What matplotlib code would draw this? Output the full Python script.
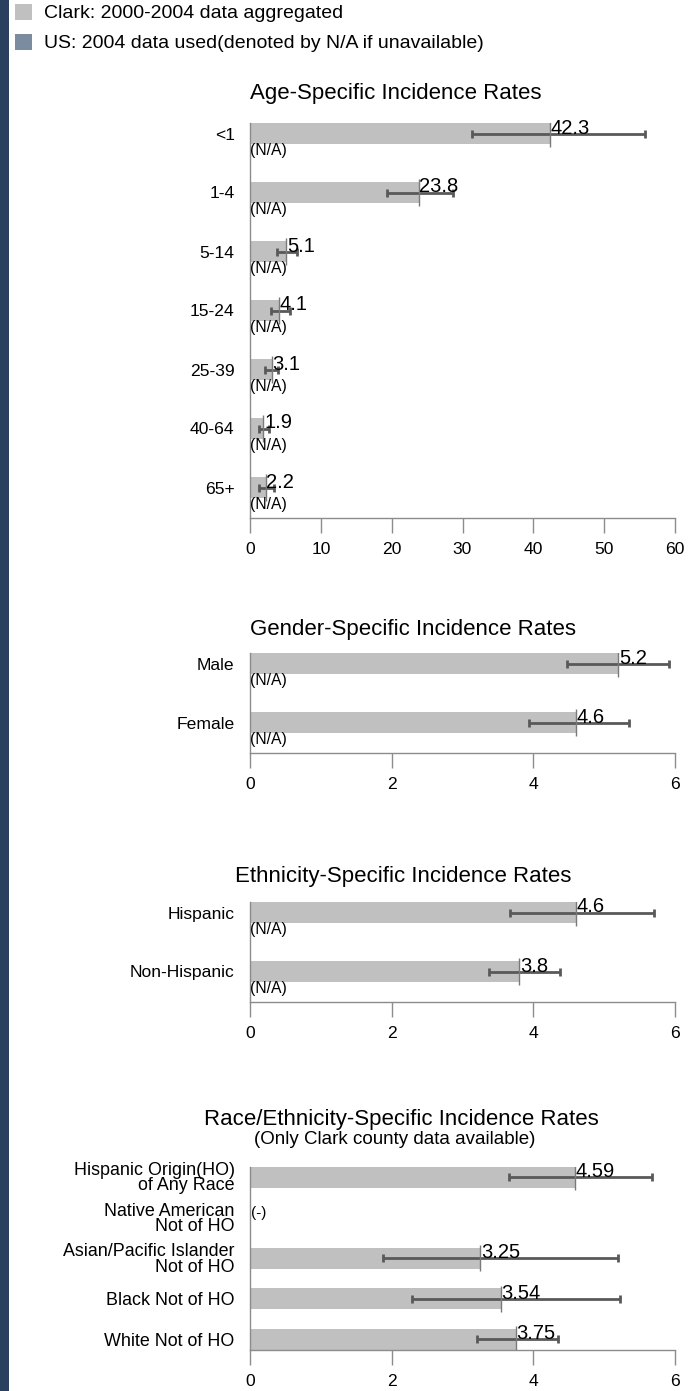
import numpy as np
import matplotlib
matplotlib.use("Agg")
import matplotlib.pyplot as plt
from matplotlib.patches import Rectangle

plt.rcParams['font.family'] = ['Liberation Sans', 'DejaVu Sans']

# ---- data -------------------------------------------------------------
age_groups = ['<1', '1-4', '5-14', '15-24', '25-39', '40-64', '65+']
age_rates = [42.3, 23.8, 5.1, 4.1, 3.1, 1.9, 2.2]
age_lower = [31.3, 19.4, 3.8, 2.9, 2.1, 1.3, 1.2]
age_upper = [55.7, 28.6, 6.7, 5.6, 4.0, 2.7, 3.4]
age_ticks = [0, 10, 20, 30, 40, 50, 60]

gender_groups = ['Male', 'Female']
gender_rates = [5.2, 4.6]
gender_lower = [4.47, 3.94]
gender_upper = [5.92, 5.35]

eth_groups = ['Hispanic', 'Non-Hispanic']
eth_rates = [4.6, 3.8]
eth_lower = [3.67, 3.37]
eth_upper = [5.70, 4.38]

race_groups = ['Hispanic Origin(HO)\nof Any Race', 'Native American\nNot of HO',
               'Asian/Pacific Islander\nNot of HO', 'Black Not of HO', 'White Not of HO']
race_rates = [4.59, np.nan, 3.25, 3.54, 3.75]
race_lower = [3.66, np.nan, 1.88, 2.28, 3.21]
race_upper = [5.68, np.nan, 5.19, 5.23, 4.35]
small_ticks = [0, 2, 4, 6]

legend_labels = ['Clark: 2000-2004 data aggregated',
                 'US: 2004 data used(denoted by N/A if unavailable)']

# ---- styling ----------------------------------------------------------
W, H = 693, 1391
BAR = '#c0c0c0'
US = '#7b8ca0'
ERR = '#595959'
AXC = '#8c8c8c'
NAVY = '#2b3f5e'

fig = plt.figure(figsize=(W / 100, H / 100), dpi=100)


def fx(px):
    return px / W


def fy(px):
    return 1 - px / H


# dark strip down the left edge
fig.patches.append(Rectangle((0, 0), fx(9), 1, transform=fig.transFigure,
                             facecolor=NAVY, edgecolor='none'))

# legend
for i, (lab, col) in enumerate(zip(legend_labels, [BAR, US])):
    yc = 12 + 30 * i
    fig.patches.append(Rectangle((fx(15), fy(yc + 8)), fx(17), 16 / H,
                                 transform=fig.transFigure,
                                 facecolor=col, edgecolor='none'))
    fig.text(fx(44), fy(yc + 1), lab, fontsize=14, va='center', ha='left')


def panel(top, bottom, first, pitch, cats, rates, lower, upper, xmax, ticks,
          fmt, na_text='(N/A)', missing_text='(-)', label_size=12.6):
    ax = fig.add_axes([fx(250), fy(bottom), fx(425), (bottom - top) / H])
    n = len(cats)
    y = np.arange(n)
    ax.set_ylim((bottom - first) / pitch, (top - first) / pitch)
    ax.set_xlim(0, xmax)
    r = np.array(rates, dtype=float)
    lo = np.array(lower, dtype=float)
    hi = np.array(upper, dtype=float)
    ok = ~np.isnan(r)
    bh = 21.3 / pitch
    ax.barh(y[ok], r[ok], height=bh, color=BAR, edgecolor='none', zorder=2)
    ax.errorbar(r[ok], y[ok], xerr=[r[ok] - lo[ok], hi[ok] - r[ok]], fmt='none',
                ecolor=ERR, elinewidth=2, capsize=3.2, capthick=2, zorder=3)
    ext = (bh / 2) + 2.5 / pitch
    ax.vlines(r[ok], y[ok] - ext, y[ok] + ext, color='#7a7a7a', lw=1, zorder=4)
    for yi, v in zip(y, r):
        if np.isnan(v):
            ax.annotate(missing_text, (0, yi), xytext=(1, 3),
                        textcoords='offset points', fontsize=11,
                        ha='left', va='center', zorder=5)
            continue
        ax.annotate(fmt.format(v), (v, yi), xytext=(0.5, 0),
                    textcoords='offset points', fontsize=14.5,
                    ha='left', va='baseline', zorder=5)
        if na_text:
            ax.annotate(na_text, (0, yi), xytext=(0.3, -17 * 0.72),
                        textcoords='offset points', fontsize=11.3,
                        ha='left', va='center', zorder=5)
    ax.set_yticks(y)
    ax.set_yticklabels(cats, fontsize=label_size, linespacing=0.88)
    ax.set_xticks(ticks)
    ax.set_xticklabels([str(t) for t in ticks], fontsize=12.6)
    ax.tick_params(axis='y', length=0, pad=11)
    ax.tick_params(axis='x', length=11, width=1, color=AXC, pad=6)
    for s in ('top', 'right'):
        ax.spines[s].set_visible(False)
    for s in ('left', 'bottom'):
        ax.spines[s].set_color(AXC)
        ax.spines[s].set_linewidth(1)
    ax.set_facecolor('none')
    return ax


panel(123, 518, 133.5, 59, age_groups, age_rates, age_lower, age_upper,
      60, age_ticks, '{:.1f}')
fig.text(fx(250), fy(94), 'Age-Specific Incidence Rates', fontsize=16,
         ha='left', va='center')

panel(653, 753, 663.5, 59, gender_groups, gender_rates, gender_lower,
      gender_upper, 6, small_ticks, '{:.1f}')
fig.text(fx(250), fy(629), 'Gender-Specific Incidence Rates', fontsize=16,
         ha='left', va='center')

panel(902, 1002, 912.5, 59, eth_groups, eth_rates, eth_lower, eth_upper,
      6, small_ticks, '{:.1f}')
fig.text(fx(403), fy(876), 'Ethnicity-Specific Incidence Rates', fontsize=16,
         ha='center', va='center')

panel(1166.5, 1350, 1177, 40.6, race_groups, race_rates, race_lower,
      race_upper, 6, small_ticks, '{:.2f}', na_text=None, label_size=12.9)
fig.text(fx(204), fy(1120), 'Race/Ethnicity-Specific Incidence Rates',
         fontsize=16, ha='left', va='center')
fig.text(fx(254), fy(1140), '(Only Clark county data available)',
         fontsize=13.5, ha='left', va='center')

fig.savefig('out.png', dpi=100)
